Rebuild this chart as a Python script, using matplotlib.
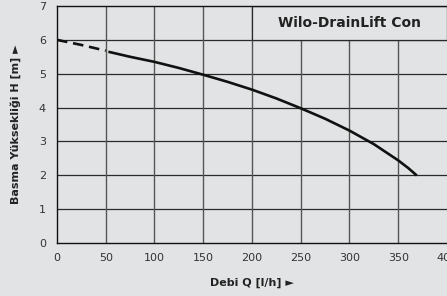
import matplotlib.pyplot as plt
import matplotlib.patches as patches

# pump curve
q_dash = [0, 25, 50]
h_dash = [6.0, 5.85, 5.68]
q_solid = [54, 75, 100, 125, 150, 175, 200, 225, 250, 275, 300, 325, 350, 360, 368]
h_solid = [5.64, 5.50, 5.35, 5.17, 4.97, 4.76, 4.53, 4.27, 3.98, 3.67, 3.32, 2.92, 2.44, 2.22, 2.02]

x_ticks = [0, 50, 100, 150, 200, 250, 300, 350, 400]
y_ticks = [0, 1, 2, 3, 4, 5, 6, 7]
title = "Wilo-DrainLift Con"

bg = "#e2e3e4"
fig = plt.figure(figsize=(4.47, 2.96), dpi=100, facecolor=bg)
ax = fig.add_axes([0.1275, 0.179, 0.8725, 0.8007])
ax.set_facecolor(bg)
ax.set_xlim(0, 400)
ax.set_ylim(0, 7)

# grid
for y in y_ticks[1:-1]:
    ax.plot([0, 400], [y, y], color="#2a2a2a", lw=0.9, zorder=1)
for x in x_ticks[1:-1]:
    top = 7 if x <= 200 else 6
    ax.plot([x, x], [0, top], color="#555555", lw=1.0, zorder=1)

# title box
ax.add_patch(patches.Rectangle((200, 6), 200, 1, facecolor=bg, edgecolor="#2a2a2a", lw=0.9, zorder=2))
ax.text(300, 6.5, title, ha="center", va="center", fontsize=10, fontweight="bold", color="#222222", zorder=3)

ax.plot(q_dash, h_dash, color="#111111", lw=1.9, ls=(0, (4, 2.2)), zorder=4)
ax.plot(q_solid, h_solid, color="#111111", lw=1.9, zorder=4)

for s in ["left", "bottom", "top"]:
    ax.spines[s].set_color("#111111")
    ax.spines[s].set_linewidth(1.0)
ax.spines["right"].set_visible(False)

ax.set_xticks(x_ticks)
ax.set_yticks(y_ticks)
ax.tick_params(length=0, labelsize=8, labelcolor="#333333")
ax.tick_params(axis="x", pad=7)
ax.tick_params(axis="y", pad=8)
ax.set_xlabel("Debi Q [l/h] \u25ba", fontsize=8, fontweight="bold", color="#222222", labelpad=11)
ax.set_ylabel("Basma Yüksekliği H [m] \u25ba", fontsize=8, fontweight="bold", color="#222222", labelpad=13)

fig.savefig("out.png", dpi=100, facecolor=bg)
